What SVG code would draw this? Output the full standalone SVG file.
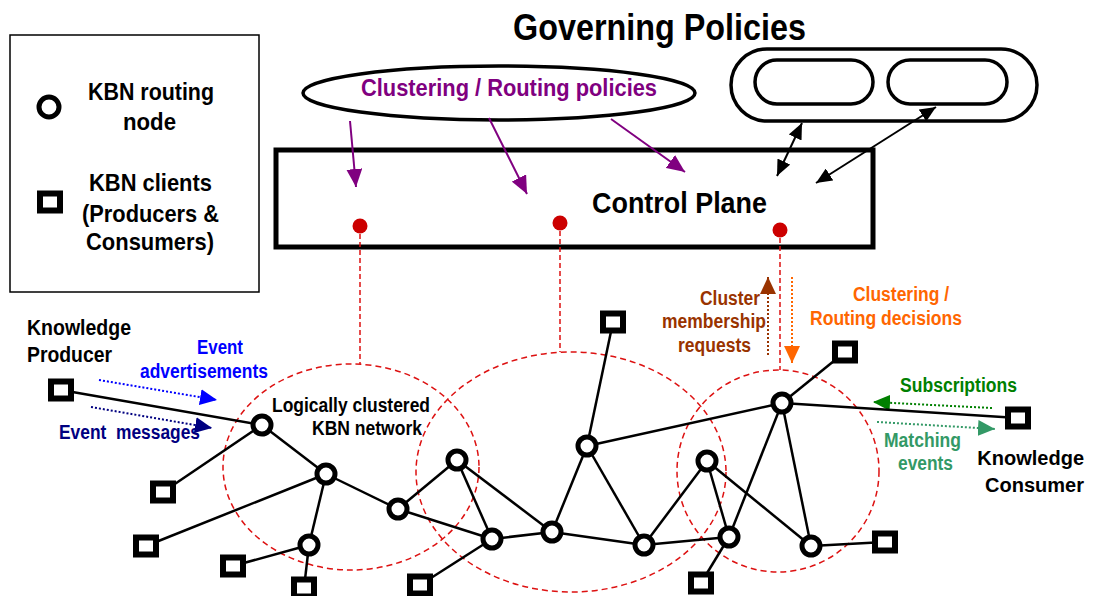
<svg xmlns="http://www.w3.org/2000/svg" width="1093" height="596" viewBox="0 0 1093 596">
<style>
text{font-family:"Liberation Sans",Arial,sans-serif;font-weight:bold}
.edge{stroke:#000;stroke-width:2.5;fill:none}
.rn{fill:#fff;stroke:#000;stroke-width:5}
.cl{fill:#fff;stroke:#000;stroke-width:6}
.clu{fill:none;stroke:#dd1111;stroke-width:1.5;stroke-dasharray:6,4}
.drop{stroke:#dd1111;stroke-width:1.5;stroke-dasharray:5,3}
.dot{fill:#cc0000}
.dotted{stroke-width:2;stroke-dasharray:2,2;fill:none}
</style>
<defs>
<marker id="mPurple" markerUnits="userSpaceOnUse" markerWidth="20" markerHeight="16" refX="18" refY="8" orient="auto"><path d="M0,0 L18,8 L0,16 Z" fill="#800080"/></marker>
<marker id="mBlack" markerUnits="userSpaceOnUse" markerWidth="18" markerHeight="14" refX="16" refY="7" orient="auto-start-reverse"><path d="M0,0 L16,7 L0,14 Z" fill="#000"/></marker>
<marker id="mBlue" markerUnits="userSpaceOnUse" markerWidth="18" markerHeight="16" refX="17" refY="8" orient="auto"><path d="M0,0 L17,8 L0,16 Z" fill="#0000ff"/></marker>
<marker id="mNavy" markerUnits="userSpaceOnUse" markerWidth="18" markerHeight="16" refX="17" refY="8" orient="auto"><path d="M0,0 L17,8 L0,16 Z" fill="#000080"/></marker>
<marker id="mBrown" markerUnits="userSpaceOnUse" markerWidth="18" markerHeight="16" refX="17" refY="8" orient="auto"><path d="M0,0 L17,8 L0,16 Z" fill="#993300"/></marker>
<marker id="mOrange" markerUnits="userSpaceOnUse" markerWidth="18" markerHeight="16" refX="17" refY="8" orient="auto"><path d="M0,0 L17,8 L0,16 Z" fill="#ff6600"/></marker>
<marker id="mGreen" markerUnits="userSpaceOnUse" markerWidth="18" markerHeight="16" refX="17" refY="8" orient="auto"><path d="M0,0 L17,8 L0,16 Z" fill="#008000"/></marker>
<marker id="mSea" markerUnits="userSpaceOnUse" markerWidth="18" markerHeight="16" refX="17" refY="8" orient="auto"><path d="M0,0 L17,8 L0,16 Z" fill="#339966"/></marker>
</defs>
<rect width="1093" height="596" fill="#fff"/>

<g id="legend">
<rect x="10" y="35" width="249" height="257" fill="none" stroke="#000" stroke-width="1.5"/>
<circle class="rn" cx="49" cy="107" r="10"/>
<text x="88" y="100" font-size="24" textLength="126" lengthAdjust="spacingAndGlyphs">KBN routing</text>
<text x="123" y="130" font-size="24" textLength="53" lengthAdjust="spacingAndGlyphs">node</text>
<rect class="cl" x="40" y="193.5" width="20" height="17"/>
<text x="89" y="191" font-size="24" textLength="123" lengthAdjust="spacingAndGlyphs">KBN clients</text>
<text x="82" y="222" font-size="24" textLength="137" lengthAdjust="spacingAndGlyphs">(Producers &amp;</text>
<text x="86" y="250" font-size="24" textLength="128" lengthAdjust="spacingAndGlyphs">Consumers)</text>
</g>

<g id="title">
<text x="513" y="40" font-size="37" textLength="293" lengthAdjust="spacingAndGlyphs">Governing Policies</text>
</g>

<g id="policies">
<ellipse cx="499" cy="93" rx="196" ry="27" fill="#fff" stroke="#000" stroke-width="3.5"/>
<text x="361" y="96" font-size="24.5" fill="#800080" textLength="296" lengthAdjust="spacingAndGlyphs">Clustering / Routing policies</text>
</g>

<g id="governing-pill">
<rect x="731" y="49" width="306" height="72" rx="36" ry="36" fill="#fff" stroke="#000" stroke-width="3.5"/>
<rect x="755" y="60" width="118" height="44" rx="22" ry="22" fill="#fff" stroke="#000" stroke-width="3.5"/>
<rect x="888" y="60" width="119" height="44" rx="22" ry="22" fill="#fff" stroke="#000" stroke-width="3.5"/>
</g>

<g id="control-plane">
<rect x="276" y="150" width="597" height="97" fill="none" stroke="#000" stroke-width="5"/>
<text x="592" y="213" font-size="30" textLength="175" lengthAdjust="spacingAndGlyphs">Control Plane</text>
<circle class="dot" cx="360" cy="226" r="7.5"/>
<circle class="dot" cx="560" cy="223" r="7.5"/>
<circle class="dot" cx="780" cy="230" r="7.5"/>
</g>

<g id="clusters">
<ellipse class="clu" cx="351" cy="467" rx="128" ry="103"/>
<ellipse class="clu" cx="571" cy="472" rx="155" ry="120"/>
<ellipse class="clu" cx="778" cy="471" rx="101" ry="101"/>
<line class="drop" x1="360" y1="234" x2="360" y2="364"/>
<line class="drop" x1="560" y1="231" x2="560" y2="352"/>
<line class="drop" x1="780" y1="238" x2="780" y2="370"/>
</g>

<g id="connectors">
<line x1="350" y1="121" x2="356" y2="187" stroke="#800080" stroke-width="2" marker-end="url(#mPurple)"/>
<line x1="489" y1="118" x2="527" y2="194" stroke="#800080" stroke-width="2" marker-end="url(#mPurple)"/>
<line x1="611" y1="119" x2="685" y2="172" stroke="#800080" stroke-width="2" marker-end="url(#mPurple)"/>
<line x1="802" y1="123" x2="777" y2="176" stroke="#000" stroke-width="2" marker-start="url(#mBlack)" marker-end="url(#mBlack)"/>
<line x1="936" y1="107" x2="816" y2="183" stroke="#000" stroke-width="2" marker-start="url(#mBlack)" marker-end="url(#mBlack)"/>
<line class="dotted" x1="99" y1="380" x2="217" y2="400" stroke="#0000ff" marker-end="url(#mBlue)"/>
<line class="dotted" x1="91" y1="407" x2="212" y2="428" stroke="#000080" marker-end="url(#mNavy)"/>
<line class="dotted" x1="768" y1="355" x2="768" y2="277" stroke="#993300" marker-end="url(#mBrown)"/>
<line class="dotted" x1="792" y1="277" x2="792" y2="363" stroke="#ff6600" marker-end="url(#mOrange)"/>
<line class="dotted" x1="992" y1="408" x2="873" y2="402" stroke="#008000" marker-end="url(#mGreen)"/>
<line class="dotted" x1="877" y1="422" x2="995" y2="429" stroke="#339966" marker-end="url(#mSea)"/>

<line class="edge" x1="61" y1="390" x2="262" y2="425"/>
<line class="edge" x1="262" y1="425" x2="163" y2="492"/>
<line class="edge" x1="262" y1="425" x2="326" y2="474"/>
<line class="edge" x1="326" y1="474" x2="146" y2="546"/>
<line class="edge" x1="326" y1="474" x2="309" y2="545"/>
<line class="edge" x1="326" y1="474" x2="398" y2="509"/>
<line class="edge" x1="309" y1="545" x2="233" y2="566"/>
<line class="edge" x1="309" y1="545" x2="304" y2="588"/>
<line class="edge" x1="398" y1="509" x2="457" y2="460"/>
<line class="edge" x1="398" y1="509" x2="492" y2="539"/>
<line class="edge" x1="457" y1="460" x2="492" y2="539"/>
<line class="edge" x1="457" y1="460" x2="552" y2="532"/>
<line class="edge" x1="492" y1="539" x2="552" y2="532"/>
<line class="edge" x1="492" y1="539" x2="420" y2="585"/>
<line class="edge" x1="552" y1="532" x2="587" y2="446"/>
<line class="edge" x1="552" y1="532" x2="644" y2="545"/>
<line class="edge" x1="587" y1="446" x2="644" y2="545"/>
<line class="edge" x1="587" y1="446" x2="613" y2="322"/>
<line class="edge" x1="587" y1="446" x2="782" y2="403"/>
<line class="edge" x1="644" y1="545" x2="707" y2="461"/>
<line class="edge" x1="644" y1="545" x2="729" y2="537"/>
<line class="edge" x1="707" y1="461" x2="729" y2="537"/>
<line class="edge" x1="707" y1="461" x2="811" y2="546"/>
<line class="edge" x1="729" y1="537" x2="782" y2="403"/>
<line class="edge" x1="729" y1="537" x2="701" y2="583"/>
<line class="edge" x1="782" y1="403" x2="811" y2="546"/>
<line class="edge" x1="782" y1="403" x2="845" y2="352"/>
<line class="edge" x1="782" y1="403" x2="1018" y2="418"/>
<line class="edge" x1="811" y1="546" x2="885" y2="542"/>
</g>

<g id="clients">
<rect class="cl" x="51" y="381.5" width="20" height="17"/>
<rect class="cl" x="153" y="483.5" width="20" height="17"/>
<rect class="cl" x="136" y="537.5" width="20" height="17"/>
<rect class="cl" x="223" y="557.5" width="20" height="17"/>
<rect class="cl" x="294" y="579.5" width="20" height="17"/>
<rect class="cl" x="410" y="576.5" width="20" height="17"/>
<rect class="cl" x="603" y="313.5" width="20" height="17"/>
<rect class="cl" x="835" y="343.5" width="20" height="17"/>
<rect class="cl" x="1008" y="409.5" width="20" height="17"/>
<rect class="cl" x="875" y="533.5" width="20" height="17"/>
<rect class="cl" x="691" y="574.5" width="20" height="17"/>
</g>

<g id="routing-nodes">
<circle class="rn" cx="262" cy="425" r="9"/>
<circle class="rn" cx="326" cy="474" r="9"/>
<circle class="rn" cx="398" cy="509" r="9"/>
<circle class="rn" cx="457" cy="460" r="9"/>
<circle class="rn" cx="492" cy="539" r="9"/>
<circle class="rn" cx="552" cy="532" r="9"/>
<circle class="rn" cx="587" cy="446" r="9"/>
<circle class="rn" cx="644" cy="545" r="9"/>
<circle class="rn" cx="707" cy="461" r="9"/>
<circle class="rn" cx="729" cy="537" r="9"/>
<circle class="rn" cx="782" cy="403" r="9"/>
<circle class="rn" cx="811" cy="546" r="9"/>
<circle class="rn" cx="309" cy="545" r="9"/>
</g>

<g id="labels">
<text x="27" y="335" font-size="22" textLength="104" lengthAdjust="spacingAndGlyphs">Knowledge</text>
<text x="27" y="362" font-size="22" textLength="85" lengthAdjust="spacingAndGlyphs">Producer</text>
<text x="197" y="354" font-size="19.5" fill="#0000ff" textLength="46" lengthAdjust="spacingAndGlyphs">Event</text>
<text x="140" y="378" font-size="19.5" fill="#0000ff" textLength="128" lengthAdjust="spacingAndGlyphs">advertisements</text>
<text x="59" y="439" font-size="19.5" fill="#000080" xml:space="preserve" textLength="141" lengthAdjust="spacingAndGlyphs">Event  messages</text>
<text x="272" y="412" font-size="19.5" textLength="158" lengthAdjust="spacingAndGlyphs">Logically clustered</text>
<text x="312" y="435" font-size="19.5" textLength="110" lengthAdjust="spacingAndGlyphs">KBN network</text>
<text x="700" y="305" font-size="19.5" fill="#993300" textLength="60" lengthAdjust="spacingAndGlyphs">Cluster</text>
<text x="662" y="328" font-size="19.5" fill="#993300" textLength="104" lengthAdjust="spacingAndGlyphs">membership</text>
<text x="678" y="352" font-size="19.5" fill="#993300" textLength="73" lengthAdjust="spacingAndGlyphs">requests</text>
<text x="853" y="301" font-size="19.5" fill="#ff6600" textLength="96" lengthAdjust="spacingAndGlyphs">Clustering /</text>
<text x="810" y="325" font-size="19.5" fill="#ff6600" textLength="152" lengthAdjust="spacingAndGlyphs">Routing decisions</text>
<text x="900" y="392" font-size="19.5" fill="#008000" textLength="117" lengthAdjust="spacingAndGlyphs">Subscriptions</text>
<text x="884" y="447" font-size="19.5" fill="#339966" textLength="77" lengthAdjust="spacingAndGlyphs">Matching</text>
<text x="898" y="470" font-size="19.5" fill="#339966" textLength="55" lengthAdjust="spacingAndGlyphs">events</text>
<text x="1084" y="465" font-size="20" text-anchor="end">Knowledge</text>
<text x="1084" y="492" font-size="20" text-anchor="end">Consumer</text>
</g>
</svg>
